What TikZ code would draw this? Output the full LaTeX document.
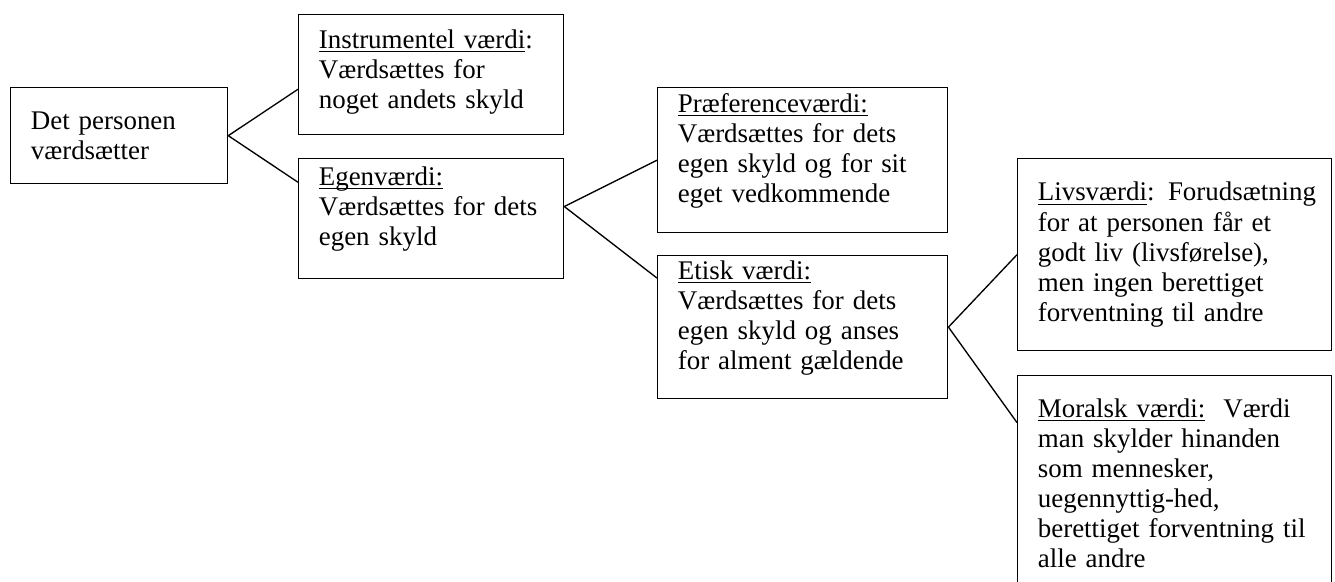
\documentclass[tikz,border=0pt]{standalone}
\usepackage{fontspec}
\setmainfont{Liberation Serif}
\usepackage{tikz}
\usetikzlibrary{calc}
\newcommand{\ulword}[1]{\underline{\smash{#1}}}
\hyphenpenalty=10000

\begin{document}
\begin{tikzpicture}[
    x=0.4457pt, y=-0.4457pt,
    every node/.style={font=\fontsize{12}{13.4}\selectfont},
    valBox/.style={rectangle, draw=black, line width=0.6pt, anchor=north west, align=left, inner xsep=9pt, inner ysep=0pt},
    linkLine/.style={draw=black, line width=0.6pt}
]
\useasboundingbox (0,0) rectangle (1335,582);

% Boxes
\node (root) [valBox, text width=78.7pt, minimum height=42.8pt] at (10,87)
    {Det personen\\værdsætter};
\node (instr) [valBox, text width=100.1pt, minimum height=53.5pt] at (298,14)
    {\ulword{Instrumentel værdi}:\\Værdsættes for\\noget andets skyld};
\node (egen) [valBox, text width=100.1pt, minimum height=53.5pt] at (298,158)
    {\ulword{Egenværdi:}\\Værdsættes for dets\\egen skyld};
\node (pref) [valBox, text width=111.3pt, minimum height=64.6pt] at (657,87)
    {\ulword{Præferenceværdi:}\\Værdsættes for dets\\egen skyld og for sit\\eget vedkommende};
\node (etisk) [valBox, text width=111.3pt, minimum height=63.7pt] at (657,255)
    {\ulword{Etisk værdi:}\\Værdsættes for dets\\egen skyld og anses\\for alment gældende};
\node (livs) [valBox, text width=122pt, minimum height=85.6pt] at (1017,158)
    {\mbox{\ulword{Livsværdi}: Forudsætning}\\for at personen får et\\godt liv (livsførelse),\\men ingen berettiget\\forventning til andre};
\node (moral) [valBox, text width=122pt, minimum height=95.8pt] at (1017,375)
    {\ulword{Moralsk værdi:}~~Værdi\\man skylder hinanden\\som mennesker,\\uegennyttig-hed,\\berettiget forventning til\\alle andre};

% Connectors
\draw [linkLine] (root.east) -- ($(instr.north west)!0.62!(instr.south west)$);
\draw [linkLine] (root.east) -- ($(egen.north west)!0.2!(egen.south west)$);
\draw [linkLine] ($(egen.north east)!0.4!(egen.south east)$) -- (pref.west);
\draw [linkLine] ($(egen.north east)!0.4!(egen.south east)$) -- ($(etisk.north west)!0.16!(etisk.south west)$);
\draw [linkLine] (etisk.east) -- (livs.west);
\draw [linkLine] (etisk.east) -- ($(moral.north west)!0.22!(moral.south west)$);

\end{tikzpicture}
\end{document}
